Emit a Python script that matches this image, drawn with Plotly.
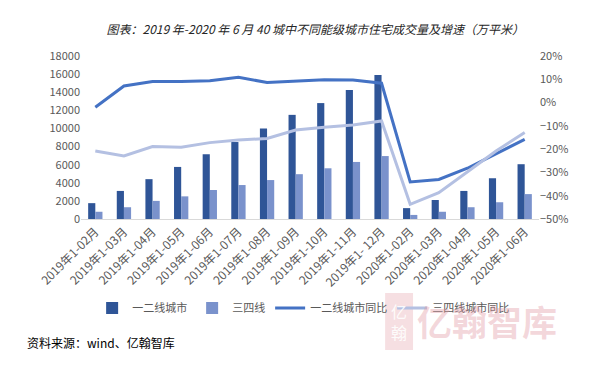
import plotly.graph_objects as go

categories = ["2019年1-02月", "2019年1-03月", "2019年1-04月", "2019年1-05月", "2019年1-06月",
              "2019年1-07月", "2019年1-08月", "2019年1-09月", "2019年1-10月", "2019年1-11月",
              "2019年1- 12月", "2020年1-02月", "2020年1-03月", "2020年1-04月", "2020年1-05月",
              "2020年1-06月"]
tier12 = [1750, 3100, 4400, 5750, 7150, 8500, 10000, 11500, 12800, 14250, 15900,
          1200, 2100, 3100, 4500, 6050]
tier34 = [800, 1300, 2000, 2500, 3200, 3750, 4300, 4950, 5600, 6300, 6950,
          450, 800, 1300, 1850, 2750]
tier12_yoy = [-2.0, 7.1, 9.0, 9.0, 9.4, 10.9, 8.6, 9.3, 9.8, 9.7, 8.3,
              -34.1, -33.0, -28.2, -22.1, -15.8]
tier34_yoy = [-20.8, -22.9, -18.9, -19.2, -17.2, -16.1, -15.4, -11.8, -10.6, -9.6, -7.9,
              -43.7, -38.7, -29.7, -20.8, -12.9]

FONT = "Noto Sans CJK SC"
TICK = "#595959"

fig = go.Figure()
fig.add_trace(go.Bar(x=categories, y=tier12, name="一二线城市", marker_color="#2f5597",
                     marker_line_width=0))
fig.add_trace(go.Bar(x=categories, y=tier34, name="三四线", marker_color="#7a92cc",
                     marker_line_width=0))
fig.add_trace(go.Scatter(x=categories, y=tier12_yoy, name="一二线城市同比", yaxis="y2",
                         mode="lines", line=dict(color="#4472c4", width=3)))
fig.add_trace(go.Scatter(x=categories, y=tier34_yoy, name="三四线城市同比", yaxis="y2",
                         mode="lines", line=dict(color="#b4c0e2", width=3)))

# page body has an 8px default margin, so the figure is drawn 8px smaller/offset
fig.update_layout(
    width=599, height=357,
    margin=dict(l=73, r=68, t=48, b=146, autoexpand=False),
    paper_bgcolor="white", plot_bgcolor="white",
    font=dict(family=FONT, size=11, color=TICK),
    barmode="group", bargap=0.5, bargroupgap=0,
    title=dict(text="图表：2019 年-2020 年 6 月 40 城中不同能级城市住宅成交量及增速（万平米）",
               font=dict(family=FONT, size=12, color="#262626", style="italic"),
               x=0.513, xanchor="center", y=1 - 22 / 357, yanchor="middle", automargin=False),
    xaxis=dict(tickangle=-45, showgrid=False, showline=True, linecolor="#d9d9d9",
               linewidth=1, ticks="", automargin=False, tickfont=dict(size=12, color=TICK)),
    yaxis=dict(range=[0, 18000], dtick=2000, tickformat="d", showgrid=False, zeroline=False,
               showline=False, automargin=False, tickfont=dict(size=11, color=TICK)),
    yaxis2=dict(range=[-50, 20], dtick=10, ticksuffix="%", overlaying="y", side="right",
                showgrid=False, zeroline=False, showline=False, automargin=False,
                tickfont=dict(size=11, color=TICK)),
    legend=dict(orientation="h", x=0.485, xanchor="center", y=-0.546, yanchor="middle",
                font=dict(size=11, color=TICK), itemwidth=30, bgcolor="rgba(0,0,0,0)"),
    showlegend=True,
)

fig.add_shape(type="rect", xref="paper", yref="paper", x0=0.664, x1=0.725, y0=-0.804, y1=-0.454,
              fillcolor="rgba(225,150,160,0.30)", line=dict(width=0), layer="below")
fig.add_annotation(text="亿<br>翰", xref="paper", yref="paper", x=0.694, y=-0.63,
                   xanchor="center", yanchor="middle", showarrow=False,
                   font=dict(family=FONT, size=16, color="rgba(255,255,255,0.9)"))
fig.add_annotation(text="亿翰智库", xref="paper", yref="paper", x=0.886, y=-0.62,
                   xanchor="center", yanchor="middle", showarrow=False,
                   font=dict(family=FONT, size=35, color="rgba(225,150,160,0.38)",
                             weight="bold"))
fig.add_annotation(text="资料来源：wind、亿翰智库", xref="paper", yref="paper",
                   x=-0.1223, y=-0.755, xanchor="left", yanchor="middle", showarrow=False,
                   font=dict(family=FONT, size=12, color="#000000"))

fig.write_html("out.html")
